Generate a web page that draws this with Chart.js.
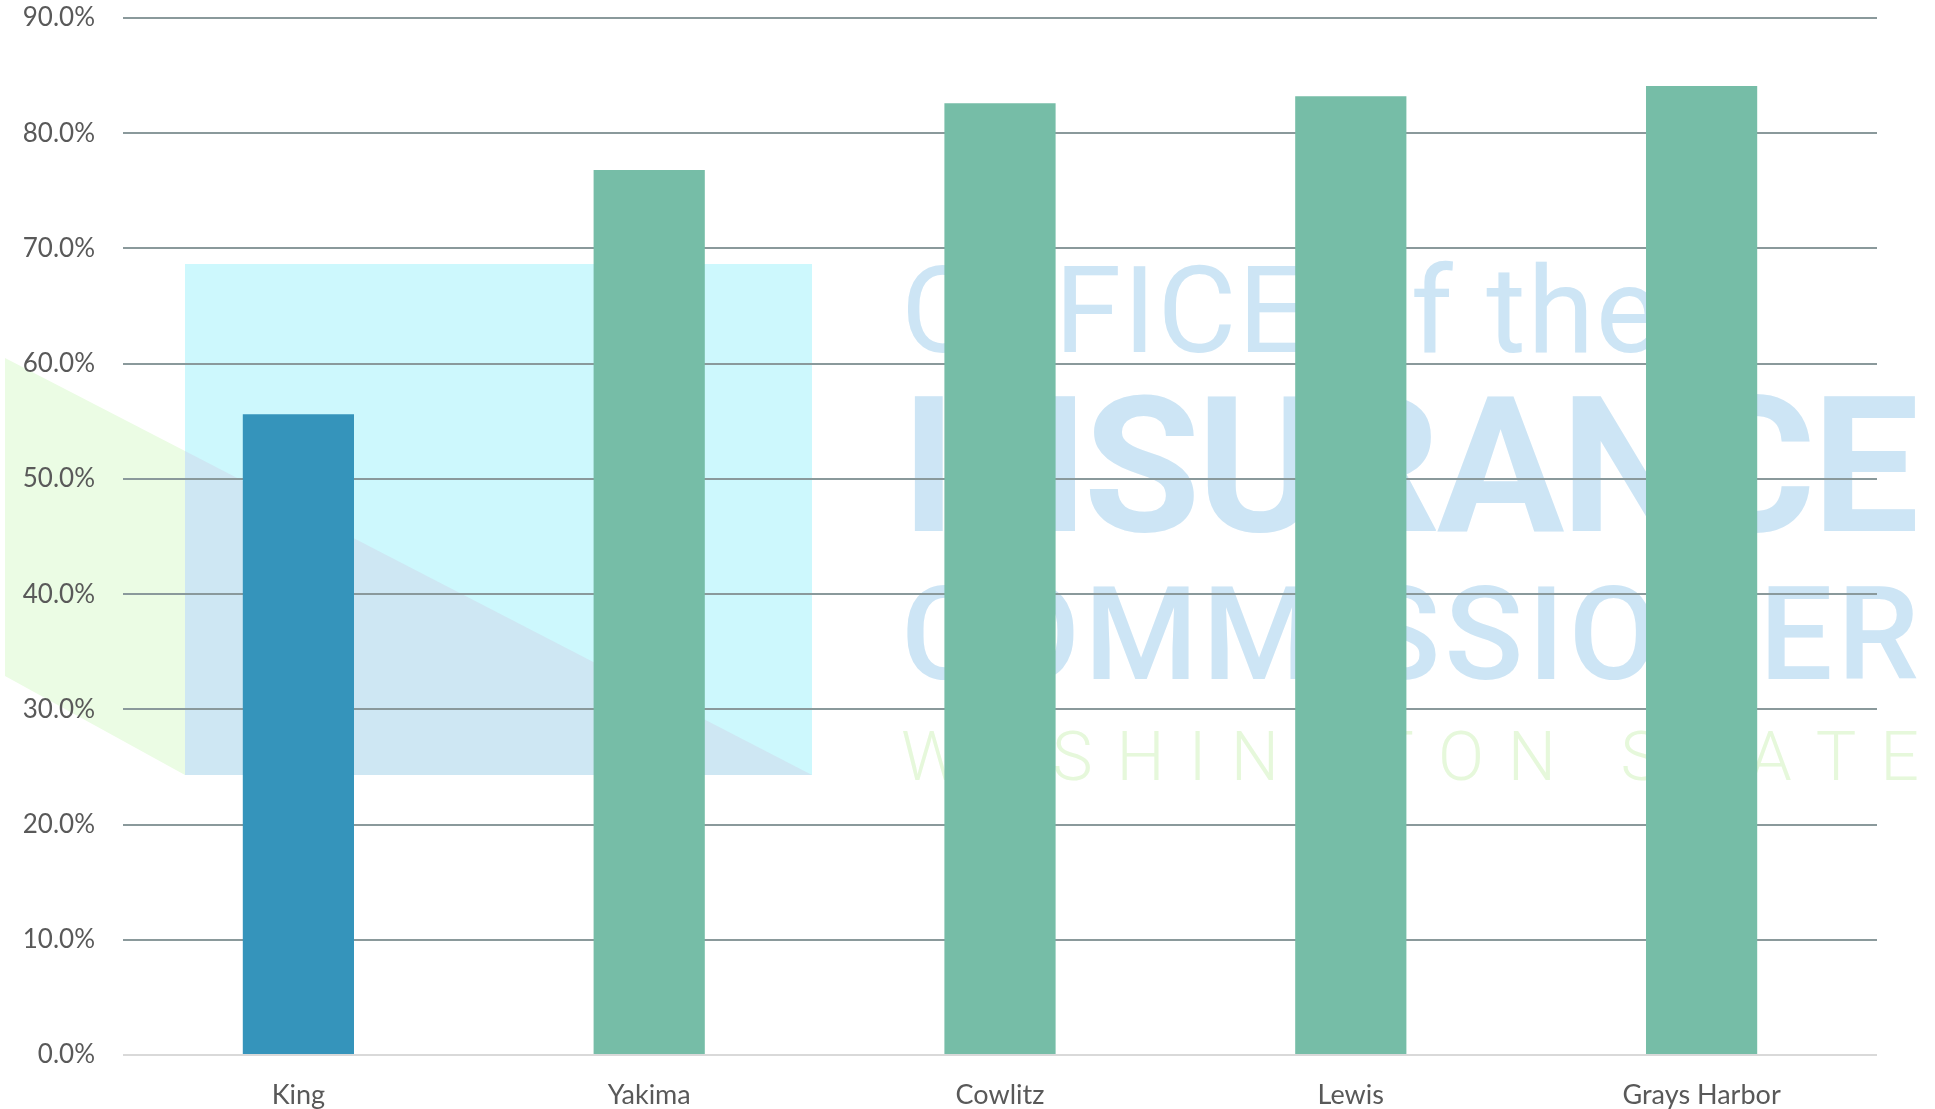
<!DOCTYPE html>
<html>
<head>
<meta charset="utf-8">
<script src="https://cdn.jsdelivr.net/npm/chart.js@4.4.0/dist/chart.umd.min.js"></script>
<style>
  html, body { margin: 0; padding: 0; background: #ffffff; }
  #wrap { width: 1935px; height: 1109px; }
</style>
</head>
<body>
<div id="wrap"><canvas id="chart" width="1935" height="1109"></canvas></div>
<script>
'use strict';

// data
const counties = ['King', 'Yakima', 'Cowlitz', 'Lewis', 'Grays Harbor'];
const shares = [55.6, 76.8, 82.6, 83.2, 84.1];
const barColors = ['#3594bb', '#76bda7', '#76bda7', '#76bda7', '#76bda7'];

const yMin = 0;
const yMax = 90;
const yStep = 10;

// spread letters of a word so that it spans x0..x1
function spreadText(ctx, text, x0, x1, y) {
    const chars = text.split('');
    const widths = chars.map(c => ctx.measureText(c).width);
    const total = widths.reduce((a, b) => a + b, 0);
    const gap = chars.length > 1 ? (x1 - x0 - total) / (chars.length - 1) : 0;
    let x = x0;
    chars.forEach((c, i) => {
        ctx.fillText(c, x, y);
        x += widths[i] + gap;
    });
}

// faint office logo behind the plot
const watermark = {
    id: 'watermark',
    beforeDraw(chart) {
        const ctx = chart.ctx;
        ctx.save();

        // green wedge
        ctx.fillStyle = '#ebfce4';
        ctx.beginPath();
        ctx.moveTo(5, 358);
        ctx.lineTo(812, 775);
        ctx.lineTo(185, 775);
        ctx.lineTo(5, 676);
        ctx.closePath();
        ctx.fill();

        // cyan box
        ctx.fillStyle = '#cdf8fd';
        ctx.fillRect(185, 264, 627, 511);

        // overlap of the two
        ctx.fillStyle = '#cee7f3';
        ctx.beginPath();
        ctx.moveTo(185, 451);
        ctx.lineTo(812, 775);
        ctx.lineTo(185, 775);
        ctx.closePath();
        ctx.fill();

        ctx.textBaseline = 'alphabetic';
        ctx.textAlign = 'left';
        ctx.fillStyle = '#cde5f5';
        ctx.font = '400 121px Roboto';
        spreadText(ctx, 'OFFICE of the', 901, 1660, 352);
        ctx.font = '700 190px Roboto';
        spreadText(ctx, 'INSURANCE', 901, 1919, 531);
        ctx.font = '500 130px Roboto';
        spreadText(ctx, 'COMMISSIONER', 901, 1919, 679);
        ctx.fillStyle = '#e6f8db';
        ctx.font = '300 68px Roboto';
        spreadText(ctx, 'WASHINGTON STATE', 901, 1919, 780);

        ctx.restore();
    }
};

new Chart(document.getElementById('chart').getContext('2d'), {
    type: 'bar',
    data: {
        labels: counties,
        datasets: [{
            data: shares,
            backgroundColor: barColors,
            borderWidth: 0,
            categoryPercentage: 1.0,
            barPercentage: 0.317
        }]
    },
    options: {
        responsive: false,
        devicePixelRatio: 1,
        animation: false,
        layout: { padding: { top: 18, right: 58, bottom: 0, left: 0 } },
        plugins: {
            legend: { display: false },
            tooltip: { enabled: false }
        },
        scales: {
            x: {
                grid: { display: false },
                border: { display: false },
                ticks: {
                    color: '#595959',
                    font: { family: 'Lato', size: 27 },
                    padding: 16,
                    maxRotation: 0
                },
                afterFit(scale) {
                    scale.height = 54;
                    scale.paddingLeft = 0;
                    scale.paddingRight = 0;
                }
            },
            y: {
                min: yMin,
                max: yMax,
                grid: {
                    drawTicks: false,
                    lineWidth: 2,
                    color: (c) => c.index === 0 ? '#d9d9d9' : '#8a999b'
                },
                border: { display: false },
                ticks: {
                    stepSize: yStep,
                    color: '#595959',
                    font: { family: 'Lato', size: 26 },
                    padding: 28,
                    callback: (v) => v.toFixed(1) + '%'
                },
                afterFit(scale) {
                    scale.width = 123;
                    scale.paddingTop = 0;
                    scale.paddingBottom = 0;
                }
            }
        }
    },
    plugins: [watermark]
});
</script>
</body>
</html>
